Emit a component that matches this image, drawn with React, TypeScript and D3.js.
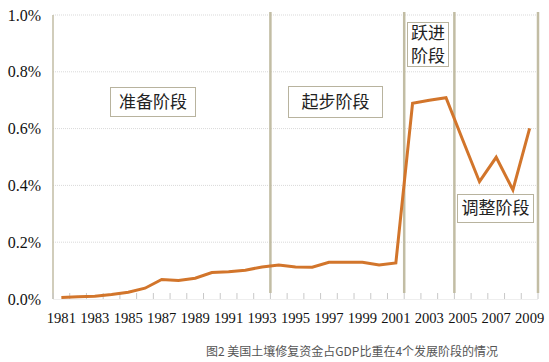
import React from "react";
import * as d3 from "d3";

const years: number[] = d3.range(1981, 2010);
const values: number[] = [
  0.005, 0.008, 0.010, 0.016, 0.024, 0.038, 0.069, 0.065, 0.073, 0.093,
  0.096, 0.101, 0.113, 0.120, 0.113, 0.112, 0.129, 0.129, 0.129, 0.120,
  0.127, 0.689, 0.700, 0.709, 0.560, 0.413, 0.499, 0.384, 0.601,
];
const yTicks: number[] = [0, 0.2, 0.4, 0.6, 0.8, 1.0];
const xTickLabels: number[] = years.filter((y) => (y - 1981) % 2 === 0);
const phaseEndYears: number[] = [1993, 2001, 2004, 2009];
const phaseNames: string[][] = [["准备阶段"], ["起步阶段"], ["跃进", "阶段"], ["调整阶段"]];
const caption = "图2 美国土壤修复资金占GDP比重在4个发展阶段的情况";

// layout (pixel boxes for the phase labels)
const phaseBoxes = [
  { x: 110, y: 87, w: 85, h: 29 },
  { x: 288, y: 86, w: 94, h: 31 },
  { x: 407, y: 22, w: 41, h: 44 },
  { x: 457, y: 194, w: 76, h: 28 },
];

export default function App() {
  const W = 549, H = 362;
  const left = 53, right = 538, top = 15, bottom = 299;
  const x = d3.scaleBand<number>().domain(years).range([left, right]).paddingInner(0).paddingOuter(0);
  const y = d3.scaleLinear().domain([0, 1.0]).range([bottom, top]);
  const line = d3.line<number>()
    .x((_, i) => (x(years[i]) as number) + x.bandwidth() / 2)
    .y((d) => y(d));
  const serif = "'Liberation Serif', 'Times New Roman', serif";
  const cjk = "'Noto Sans CJK SC', sans-serif";
  const tan = "#c2bda4";
  return (
    <svg width={W} height={H} style={{ position: "absolute", left: 0, top: 0, background: "#fff" }}>
      {/* gridlines */}
      {yTicks.filter((t) => t > 0).map((t) => (
        <line key={t} x1={left} x2={right} y1={y(t)} y2={y(t)} stroke="#d9d9d9" strokeWidth={1} strokeDasharray="1,1" />
      ))}
      {/* y axis */}
      <line x1={left} x2={left} y1={top} y2={bottom} stroke={tan} strokeWidth={1.5} />
      {/* x axis ticks */}
      <line x1={left} x2={right} y1={bottom + 0.5} y2={bottom + 0.5} stroke="#eeeeee" strokeWidth={1} />
      {d3.range(years.length + 1).map((i) => {
        const xx = left + i * x.bandwidth();
        return <line key={i} x1={xx} x2={xx} y1={bottom - 6} y2={bottom} stroke="#c8c8c8" strokeWidth={1} />;
      })}
      {/* y labels */}
      {yTicks.map((t) => (
        <text key={t} x={41} y={y(t)} dy="0.35em" textAnchor="end" fontFamily={serif} fontSize={16} fill="#111">
          {t.toFixed(1)}%
        </text>
      ))}
      {/* x labels */}
      {xTickLabels.map((yr) => (
        <text key={yr} x={(x(yr) as number) + x.bandwidth() / 2} y={323} textAnchor="middle" fontFamily={serif} fontSize={14.6} fill="#111">
          {yr}
        </text>
      ))}
      {/* phase dividers */}
      {phaseEndYears.map((yr) => {
        const xx = (x(yr) as number) + x.bandwidth();
        return <line key={yr} x1={xx} x2={xx} y1={12} y2={293} stroke={tan} strokeWidth={2.5} />;
      })}
      {/* data line */}
      <path d={line(values) || ""} fill="none" stroke="#d2752b" strokeWidth={3} strokeLinejoin="miter" />
      {/* phase labels */}
      {phaseNames.map((lines, i) => {
        const b = phaseBoxes[i];
        const lh = 23;
        const cy = b.y + b.h / 2;
        return (
          <g key={i}>
            <rect x={b.x + 0.5} y={b.y + 0.5} width={b.w} height={b.h} fill="#fff" stroke="#b8b39e" strokeWidth={1} />
            {lines.map((s, j) => (
              <text key={j} x={b.x + b.w / 2 + 0.5} y={cy + (j - (lines.length - 1) / 2) * lh} dy="0.36em"
                textAnchor="middle" fontFamily={cjk} fontSize={17} fill="#222">
                {s}
              </text>
            ))}
          </g>
        );
      })}
      {/* caption */}
      <text x={352} y={356} textAnchor="middle" fontFamily={cjk} fontSize={12} fill="#555">{caption}</text>
    </svg>
  );
}
